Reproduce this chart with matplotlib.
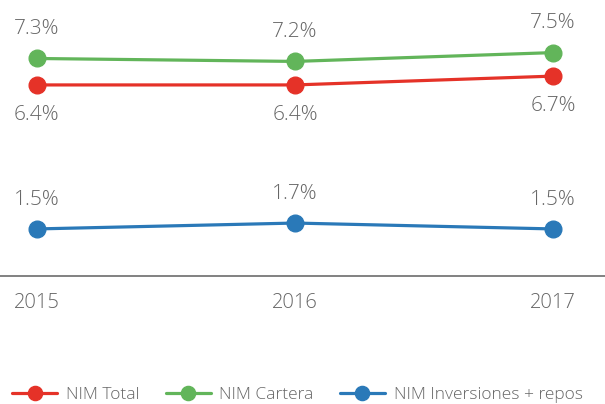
import matplotlib.pyplot as plt

years = [2015, 2016, 2017]
nim_total = [6.4, 6.4, 6.7]
nim_cartera = [7.3, 7.2, 7.5]
nim_inv = [1.5, 1.7, 1.5]

plt.rcParams['font.family'] = ['Open Sans', 'DejaVu Sans']
plt.rcParams['font.weight'] = 'light'
gray = '#666666'

fig = plt.figure(figsize=(6.05, 4.04), dpi=100)
ax = fig.add_axes([0, 0.3168, 1, 0.6832])

series = [
    ("NIM Total", nim_total, '#e53228', 'below'),
    ("NIM Cartera", nim_cartera, '#62b55a', 'above'),
    ("NIM Inversiones + repos", nim_inv, '#2a79b8', 'above'),
]
for name, vals, col, pos in series:
    ax.plot(years, vals, color=col, lw=2.3, marker='o', markersize=12,
            label=name, solid_capstyle='round')
    for x, v in zip(years, vals):
        dy = 21 if pos == 'above' else -21.5
        ax.annotate(f"{v}%", (x, v), xytext=(0, dy), textcoords='offset points',
                    ha='center', va='center', fontsize=15, color=gray)

ax.set_xlim(2014.857, 2017.2016)
ax.set_ylim(-0.102, 9.29)
for s in ['top', 'right', 'left']:
    ax.spines[s].set_visible(False)
ax.spines['bottom'].set_color('#777777')
ax.spines['bottom'].set_linewidth(1.3)
ax.set_yticks([])
ax.set_xticks(years)
ax.set_xticklabels([str(y) for y in years])
ax.tick_params(axis='x', length=0, pad=12, labelsize=14.5, labelcolor=gray)

fig.legend(loc='lower left', bbox_to_anchor=(0.0, -0.028), ncol=3, frameon=False,
           fontsize=12.5, labelcolor=gray, handlelength=2.6, columnspacing=1.5,
           handletextpad=0.5, markerscale=0.85, borderaxespad=0.3)

fig.savefig('out.png', dpi=100)
